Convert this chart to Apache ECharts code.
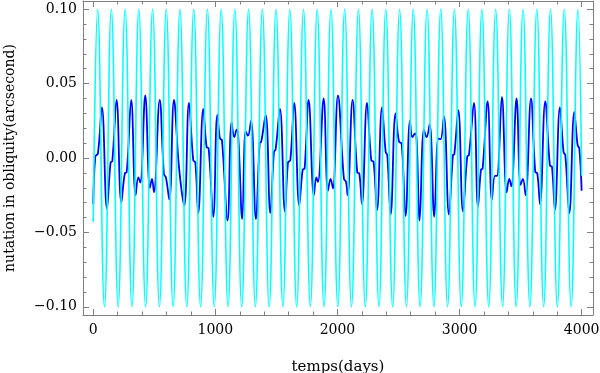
<!DOCTYPE html>
<html>
<head>
<meta charset="utf-8">
<script src="https://cdn.jsdelivr.net/npm/echarts@6/dist/echarts.min.js"></script>
<style>
  html, body { margin: 0; padding: 0; background: #fff; }
  #chart { width: 600px; height: 373px; }
</style>
</head>
<body>
<div id="chart"></div>
<script>
// cyan curve: start, extrema (peaks / troughs) and end
var cyanDays = [0, 36, 92, 148, 204, 261, 317, 373, 429, 486, 542, 598, 654, 710, 766, 823, 879, 935, 991,
  1048, 1104, 1160, 1216, 1272, 1328, 1385, 1441, 1497, 1553, 1610, 1666, 1722, 1778, 1834, 1890, 1947,
  2003, 2059, 2115, 2172, 2228, 2284, 2340, 2396, 2452, 2509, 2565, 2621, 2677, 2734, 2790, 2846, 2902,
  2958, 3014, 3071, 3127, 3183, 3239, 3296, 3352, 3408, 3464, 3520, 3576, 3633, 3689, 3745, 3801, 3858,
  3914, 3970, 4000]
var cyanValues = [-0.043, 0.1, -0.1, 0.1, -0.1, 0.1, -0.1, 0.1, -0.1, 0.1, -0.1, 0.1, -0.1, 0.1, -0.1, 0.1,
  -0.1, 0.1, -0.1, 0.1, -0.1, 0.1, -0.1, 0.1, -0.1, 0.1, -0.1, 0.1, -0.1, 0.1, -0.1, 0.1, -0.1, 0.1, -0.1,
  0.1, -0.1, 0.1, -0.1, 0.1, -0.1, 0.1, -0.1, 0.1, -0.1, 0.1, -0.1, 0.1, -0.1, 0.1, -0.1, 0.1, -0.1, 0.1,
  -0.1, 0.1, -0.1, 0.1, -0.1, 0.1, -0.1, 0.1, -0.1, 0.1, -0.1, 0.1, -0.1, 0.1, -0.1, 0.1, -0.1, 0.1, -0.012]

// blue curve: peaks, troughs, shoulders and small bumps
var blueDays = [0, 17, 38, 71, 112, 142, 156, 191, 230, 260, 273, 311, 347, 369, 385, 426, 464, 481, 497,
  544, 579, 595, 623, 661, 702, 745, 784, 819, 836, 860, 901, 928, 945, 983, 1016, 1038, 1054, 1100,
  1133, 1155, 1174, 1188, 1220, 1248, 1267, 1292, 1332, 1363, 1376, 1412, 1450, 1480, 1494, 1529, 1570,
  1595, 1614, 1646, 1687, 1715, 1731, 1764, 1807, 1827, 1840, 1887, 1922, 1944, 1963, 2004, 2053, 2070,
  2083, 2124, 2162, 2179, 2201, 2242, 2277, 2296, 2324, 2365, 2395, 2408, 2436, 2476, 2504, 2526, 2558,
  2594, 2613, 2635, 2648, 2673, 2708, 2730, 2755, 2793, 2826, 2845, 2872, 2913, 2946, 2957, 2990, 3028,
  3063, 3077, 3118, 3151, 3175, 3189, 3230, 3265, 3290, 3306, 3347, 3386, 3407, 3424, 3467, 3500, 3519,
  3541, 3585, 3620, 3637, 3659, 3702, 3740, 3757, 3781, 3822, 3852, 3866, 3899, 3940, 3967, 3981, 4000]
var blueValues = [-0.031, 0.001, 0.003, 0.034, -0.034, -0.003, -0.002, 0.039, -0.030, -0.010, -0.0097,
  0.039, -0.025, -0.013, -0.0165, 0.042, -0.020, -0.014, -0.023, 0.039, -0.011, -0.013, -0.028, 0.039,
  -0.006, -0.032, 0.037, -0.0015, -0.003, -0.037, 0.033, 0.0075, 0.0064, -0.0395, 0.029, 0.013, 0.012,
  -0.042, 0.024, 0.014, 0.019, 0.0136, -0.041, 0.018, 0.015, 0.025, -0.041, 0.010, 0.011, 0.029, -0.037,
  0.004, 0.006, 0.033, -0.036, -0.003, -0.0015, 0.037, -0.032, -0.008, -0.007, 0.039, -0.025, -0.013,
  -0.016, 0.040, -0.022, -0.014, -0.0205, 0.042, -0.014, -0.016, -0.025, 0.039, -0.0097, -0.0104, -0.031,
  0.037, -0.0015, -0.0026, -0.035, 0.034, 0.004, 0.002, -0.038, 0.030, 0.011, 0.0097, -0.039, 0.025,
  0.014, 0.0165, 0.013, -0.042, 0.019, 0.014, 0.0225, -0.0395, 0.013, 0.0127, 0.028, -0.038, 0.002,
  0.0024, 0.032, -0.036, 0.001, 0.002, 0.037, -0.033, -0.008, -0.007, 0.038, -0.028, -0.012, -0.012,
  0.041, -0.023, -0.014, -0.019, 0.040, -0.018, -0.014, -0.025, 0.040, -0.0093, -0.0104, -0.031, 0.038,
  -0.005, -0.006, -0.035, 0.034, 0.004, 0.002, -0.037, 0.031, 0.0086, 0.0064, -0.022]

// tick positions
var xMajorTicks = [0, 1000, 2000, 3000, 4000]
var xMinorTicks = [200, 400, 600, 800, 1200, 1400, 1600, 1800, 2200, 2400, 2600, 2800, 3200, 3400, 3600, 3800]
var yMajorTicks = [-0.1, -0.05, 0, 0.05, 0.1]
var yMinorTicks = [-0.09, -0.08, -0.07, -0.06, -0.04, -0.03, -0.02, -0.01,
  0.01, 0.02, 0.03, 0.04, 0.06, 0.07, 0.08, 0.09]

var font = 'DejaVu Serif'
var frameColor = '#7f7f7f'

function pairs(xs, ys) {
  return xs.map(function(x, i) { return [x, ys[i]] })
}

function xAxisCfg(pos, ticks, len, withLabels, withLine) {
  return {
    type: 'value',
    position: pos,
    min: -84,
    max: 4093,
    axisLine: { show: withLine, onZero: false, lineStyle: { color: frameColor, width: 1 } },
    axisTick: { show: true, inside: true, length: len, customValues: ticks, lineStyle: { color: frameColor } },
    axisLabel: {
      show: withLabels,
      customValues: ticks,
      margin: 8,
      color: '#000',
      fontFamily: font,
      fontSize: 14,
      formatter: function(v) { return String(v) }
    },
    splitLine: { show: false }
  }
}

function yAxisCfg(pos, ticks, len, withLabels, withLine) {
  return {
    type: 'value',
    position: pos,
    min: -0.1055,
    max: 0.1055,
    axisLine: { show: withLine, onZero: false, lineStyle: { color: frameColor, width: 1 } },
    axisTick: { show: true, inside: true, length: len, customValues: ticks, lineStyle: { color: frameColor } },
    axisLabel: {
      show: withLabels,
      customValues: ticks,
      margin: 6,
      color: '#000',
      fontFamily: font,
      fontSize: 14,
      formatter: function(v) {
        var s = Math.abs(v).toFixed(2)
        return v < -1e-9 ? '\u2212' + s : s
      }
    },
    splitLine: { show: false }
  }
}

var chart = echarts.init(document.getElementById('chart'), null, { renderer: 'canvas' })

var xMain = xAxisCfg('bottom', xMajorTicks, 6, true, true)
xMain.name = 'temps(days)'
xMain.nameLocation = 'middle'
xMain.nameGap = 45
xMain.nameTextStyle = { color: '#000', fontFamily: font, fontSize: 15 }

var yMain = yAxisCfg('left', yMajorTicks, 6, true, true)
yMain.name = 'nutation in obliquity(arcsecond)'
yMain.nameLocation = 'middle'
yMain.nameGap = 66
yMain.nameTextStyle = { color: '#000', fontFamily: font, fontSize: 14 }

chart.setOption({
  animation: false,
  backgroundColor: '#fff',
  grid: { left: 83, right: 7, top: 1, bottom: 58, containLabel: false, outerBoundsMode: 'none' },
  xAxis: [
    xMain,
    xAxisCfg('bottom', xMinorTicks, 3.5, false, false),
    xAxisCfg('top', xMajorTicks, 6, false, true),
    xAxisCfg('top', xMinorTicks, 3.5, false, false)
  ],
  yAxis: [
    yMain,
    yAxisCfg('left', yMinorTicks, 3.5, false, false),
    yAxisCfg('right', yMajorTicks, 6, false, true),
    yAxisCfg('right', yMinorTicks, 3.5, false, false)
  ],
  series: [{
    name: 'blue',
    type: 'line',
    xAxisIndex: 0,
    yAxisIndex: 0,
    data: pairs(blueDays, blueValues),
    smooth: 0.4,
    showSymbol: false,
    symbol: 'none',
    lineStyle: { color: '#0000ff', width: 1.8 }
  }, {
    name: 'cyan',
    type: 'line',
    xAxisIndex: 0,
    yAxisIndex: 0,
    data: pairs(cyanDays, cyanValues),
    smooth: 0.45,
    showSymbol: false,
    symbol: 'none',
    lineStyle: { color: '#00ffff', width: 1.6 }
  }]
})
</script>
</body>
</html>
